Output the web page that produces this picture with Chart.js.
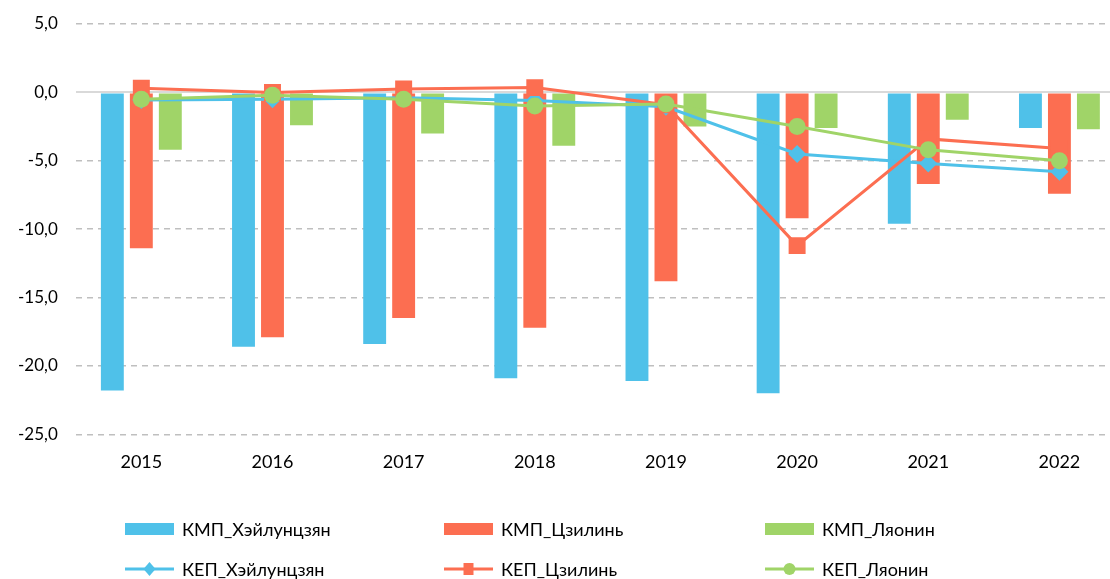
<!DOCTYPE html>
<html>
<head>
<meta charset="utf-8">
<script src="https://cdn.jsdelivr.net/npm/chart.js@4"></script>
<style>
  html, body { margin: 0; padding: 0; background: #fff; overflow: hidden; }
  #wrap { width: 1137px; height: 579px; }
</style>
</head>
<body>
<div id="wrap"><canvas id="chart"></canvas></div>
<script>
// годы
const years = ["2015", "2016", "2017", "2018", "2019", "2020", "2021", "2022"];

// КМП (столбцы)
const kmpHeilongjiang = [-21.8, -18.6, -18.4, -20.9, -21.1, -22.0, -9.6, -2.6];
const kmpJilin        = [-11.4, -17.9, -16.5, -17.2, -13.8, -9.2, -6.7, -7.4];
const kmpLiaoning     = [-4.2, -2.4, -3.0, -3.9, -2.5, -2.6, -2.0, -2.7];

// КЕП (линии)
const kepHeilongjiang = [-0.55, -0.5, -0.4, -0.6, -1.05, -4.5, -5.2, -5.8];
const kepJilin        = [0.3, 0.0, 0.25, 0.35, -0.9, -11.2, -3.4, -4.1];
const kepLiaoning     = [-0.5, -0.2, -0.5, -1.0, -0.85, -2.5, -4.2, -5.0];

const yTicks = [5, 0, -5, -10, -15, -20, -25];

const BLUE = "#4FC1E9";
const RED = "#FC6E51";
const GREEN = "#A0D468";
const FONT = "Lato, 'Liberation Sans', sans-serif";

// легенда в три колонки, два ряда
const legendItems = [
  { text: "КМП_Хэйлунцзян", color: BLUE, kind: "bar" },
  { text: "КМП_Цзилинь", color: RED, kind: "bar" },
  { text: "КМП_Ляонин", color: GREEN, kind: "bar" },
  { text: "КЕП_Хэйлунцзян", color: BLUE, kind: "rectRot" },
  { text: "КЕП_Цзилинь", color: RED, kind: "rect" },
  { text: "КЕП_Ляонин", color: GREEN, kind: "circle" },
];

const gridLegend = {
  id: "gridLegend",
  afterDraw(chart) {
    const ctx = chart.ctx;
    const colX = [125, 444, 765];
    const rowY = [529, 569];
    ctx.save();
    ctx.font = "18px " + FONT;
    ctx.textBaseline = "middle";
    legendItems.forEach((it, i) => {
      const x = colX[i % 3];
      const y = rowY[Math.floor(i / 3)];
      if (it.kind === "bar") {
        ctx.fillStyle = it.color;
        ctx.fillRect(x, y - 6, 49, 12);
      } else {
        ctx.strokeStyle = it.color;
        ctx.lineWidth = 3;
        ctx.beginPath();
        ctx.moveTo(x, y);
        ctx.lineTo(x + 49, y);
        ctx.stroke();
        ctx.fillStyle = it.color;
        const cx = x + 24.5;
        ctx.beginPath();
        if (it.kind === "rectRot") {
          ctx.moveTo(cx, y - 7); ctx.lineTo(cx + 6, y); ctx.lineTo(cx, y + 7); ctx.lineTo(cx - 6, y);
        } else if (it.kind === "rect") {
          ctx.rect(cx - 5, y - 6, 10, 12);
        } else {
          ctx.arc(cx, y, 6, 0, Math.PI * 2);
        }
        ctx.fill();
      }
      ctx.fillStyle = "#000";
      ctx.fillText(it.text, x + 57, y + 1);
    });
    ctx.restore();
  }
};

new Chart(document.getElementById("chart"), {
  data: {
    labels: years,
    datasets: [
      { type: "line", label: "КЕП_Ляонин", data: kepLiaoning, order: 0,
        borderColor: GREEN, backgroundColor: GREEN, borderWidth: 3,
        pointStyle: "circle", pointRadius: 8.5, pointHoverRadius: 8.5, pointBorderWidth: 0 },
      { type: "line", label: "КЕП_Цзилинь", data: kepJilin, order: 1,
        borderColor: RED, backgroundColor: RED, borderWidth: 3,
        pointStyle: "rect", pointRadius: 12, pointHoverRadius: 12, pointBorderWidth: 0 },
      { type: "line", label: "КЕП_Хэйлунцзян", data: kepHeilongjiang, order: 2,
        borderColor: BLUE, backgroundColor: BLUE, borderWidth: 3,
        pointStyle: "rectRot", pointRadius: 9, pointHoverRadius: 9, pointBorderWidth: 0 },
      { type: "bar", label: "КМП_Хэйлунцзян", data: kmpHeilongjiang, order: 3,
        backgroundColor: BLUE },
      { type: "bar", label: "КМП_Цзилинь", data: kmpJilin, order: 4,
        backgroundColor: RED },
      { type: "bar", label: "КМП_Ляонин", data: kmpLiaoning, order: 5,
        backgroundColor: GREEN },
    ]
  },
  options: {
    responsive: true,
    maintainAspectRatio: false,
    animation: false,
    datasets: {
      bar: { categoryPercentage: 0.663, barPercentage: 0.79 }
    },
    layout: { padding: { top: 24, right: 0, bottom: 97, left: 0 } },
    plugins: {
      legend: { display: false },
      tooltip: { enabled: false }
    },
    scales: {
      x: {
        offset: true,
        grid: { display: false },
        border: { display: false },
        ticks: { color: "#000", font: { family: FONT, size: 18 }, padding: 9 }
      },
      y: {
        min: -25, max: 5,
        afterBuildTicks: (axis) => { axis.ticks = yTicks.map(v => ({ value: v })); },
        grid: {
          drawTicks: false,
          color: (c) => c.tick && c.tick.value === 0 ? "#d9d9d9" : "#bfbfbf",
          lineWidth: (c) => c.tick && c.tick.value === 0 ? 2 : 1.5
        },
        border: {
          display: false,
          dash: (c) => c.tick && c.tick.value === 0 ? [] : [6, 5]
        },
        ticks: {
          color: "#000",
          font: { family: FONT, size: 17, lineHeight: 0.5 },
          padding: 18,
          callback: (v) => v.toFixed(1).replace(".", ",")
        }
      }
    }
  },
  plugins: [gridLegend]
});
</script>
</body>
</html>
